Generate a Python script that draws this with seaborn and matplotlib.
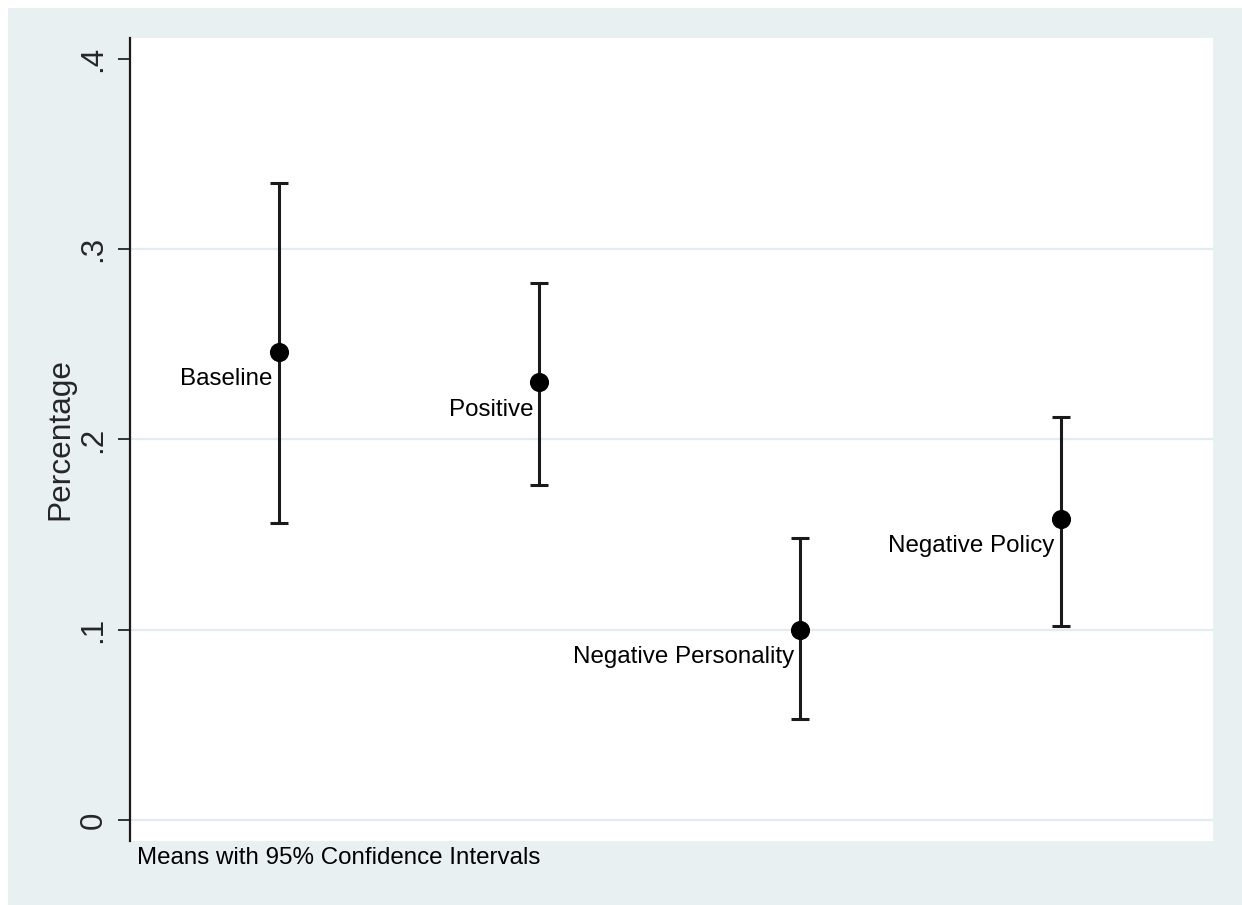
import numpy as np
import pandas as pd
import matplotlib
matplotlib.use("Agg")
import matplotlib.pyplot as plt
from matplotlib.patches import Rectangle
import seaborn as sns

# Treatment conditions with mean share and 95% confidence bounds
conditions = ["Baseline", "Positive", "Negative Personality", "Negative Policy"]
means = [0.246, 0.230, 0.100, 0.158]
ci_low = [0.156, 0.176, 0.053, 0.102]
ci_high = [0.335, 0.282, 0.148, 0.212]
y_ticks = [0.0, 0.1, 0.2, 0.3, 0.4]
y_tick_labels = ["0", ".1", ".2", ".3", ".4"]

sns.set_style("white")
plt.rcParams["font.family"] = ["Liberation Sans", "DejaVu Sans"]

BG = "#E8F0F2"
GRID = "#E3ECEF"

df = pd.DataFrame({
    "condition": conditions,
    "pos": np.arange(1, len(conditions) + 1),
    "mean": means,
    "lo": ci_low,
    "hi": ci_high,
})

fig = plt.figure(figsize=(12.42, 9.05), dpi=100, facecolor="white")
# Graph region backdrop (thin white border on top and left)
fig.patches.append(Rectangle((8 / 1242, 0), 1 - 8 / 1242, 1 - 8 / 905,
                             transform=fig.transFigure, facecolor=BG,
                             edgecolor="none", zorder=-10))

ax = fig.add_axes([130 / 1242, 1 - 841 / 905, (1213 - 130) / 1242, (841 - 38) / 905])
ax.set_facecolor("white")

# Horizontal grid lines
for yv in y_ticks[:-1]:
    ax.axhline(yv, color=GRID, lw=1.6, zorder=0)

# Confidence interval bars
yerr = np.vstack([df["mean"] - df["lo"], df["hi"] - df["mean"]])
ax.errorbar(df["pos"], df["mean"], yerr=yerr, fmt="none", ecolor="#1a1a1a",
            elinewidth=2.2, capsize=6.5, capthick=2.2, zorder=2)

# Mean markers
sns.scatterplot(data=df, x="pos", y="mean", ax=ax, color="black", s=190,
                edgecolor="black", linewidth=0, zorder=3, legend=False)

# Condition labels to the lower left of each mean
for _, r in df.iterrows():
    ax.annotate(r["condition"], (r["pos"], r["mean"]), xytext=(-4.5, -19.5),
                textcoords="offset points", ha="right", va="center",
                fontsize=17.4, color="black")

ax.set_xlim(0.43, 4.583)
ax.set_ylim(-0.01104, 0.41104)
ax.set_xticks([])
ax.set_yticks(y_ticks)
ax.set_yticklabels(y_tick_labels, rotation=90, va="center", fontsize=22.5)
ax.tick_params(axis="y", length=8.6, width=1.4, color="#333333", pad=7,
               left=True)
ax.set_xlabel("")
ax.set_ylabel("Percentage", fontsize=22.8, labelpad=2)

for side in ["top", "right", "bottom"]:
    ax.spines[side].set_visible(False)
ax.spines["left"].set_color("#1a1a1a")
ax.spines["left"].set_linewidth(1.6)

fig.text(137 / 1242, 1 - 858 / 905, "Means with 95% Confidence Intervals",
         ha="left", va="center", fontsize=17.4, color="black")

fig.savefig("out.png", dpi=100, facecolor=fig.get_facecolor())
